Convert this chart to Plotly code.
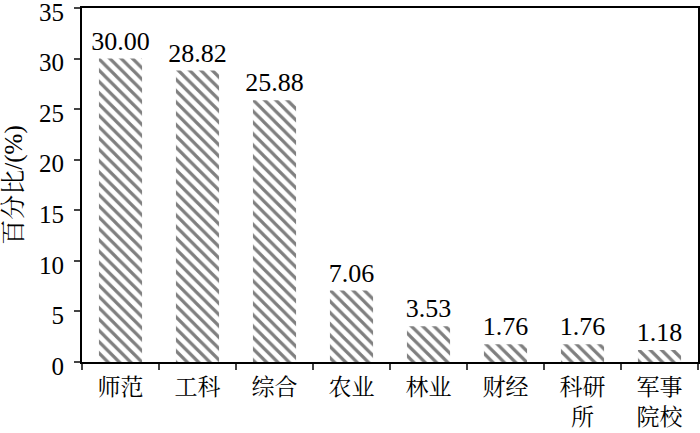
import plotly.graph_objects as go

categories = ["师范", "工科", "综合", "农业", "林业", "财经", "科研<br>所", "军事<br>院校"]
values = [30.00, 28.82, 25.88, 7.06, 3.53, 1.76, 1.76, 1.18]
labels = ["30.00", "28.82", "25.88", "7.06", "3.53", "1.76", "1.76", "1.18"]
y_ticks = [0, 5, 10, 15, 20, 25, 30, 35]

FONT = "Liberation Serif, Noto Serif CJK SC, Noto Sans CJK SC, serif"

fig = go.Figure(go.Bar(
    x=categories, y=values, text=labels, textposition="outside",
    textfont=dict(family=FONT, size=26, color="black"),
    constraintext="none",
    cliponaxis=False,
    marker=dict(color="white", line=dict(width=0),
                pattern=dict(shape="\\", fgcolor="black", bgcolor="white",
                             size=8, solidity=0.4)),
    width=0.56,
))

fig.update_layout(
    width=700, height=433,
    margin=dict(l=82, r=2, t=8, b=71, autoexpand=False),
    paper_bgcolor="white", plot_bgcolor="white",
    font=dict(family=FONT, size=24, color="black"),
    showlegend=False,
)
fig.update_yaxes(
    range=[0, 35.001], tickvals=y_ticks, ticks="outside", ticklen=6, tickwidth=2,
    showline=True, linewidth=2, linecolor="black", mirror=True,
    showgrid=False, zeroline=False, automargin=False,
    ticklabelstandoff=5, ticklabeloverflow="allow", ticklabelshift=4,
    title=dict(text="百分比/(%)", font=dict(family=FONT, size=25, color="black"), standoff=10),
    tickfont=dict(family=FONT, size=25, color="black"),
)
fig.update_xaxes(
    ticks="outside", ticklen=6, tickwidth=2, tickson="boundaries",
    showline=True, linewidth=2, linecolor="black", mirror=True,
    showgrid=False, automargin=False, ticklabelstandoff=3,
    tickfont=dict(family=FONT, size=23, color="black"),
)

fig.write_html("out.html", config={"displayModeBar": False},
               post_script="document.body.style.margin='0';")
